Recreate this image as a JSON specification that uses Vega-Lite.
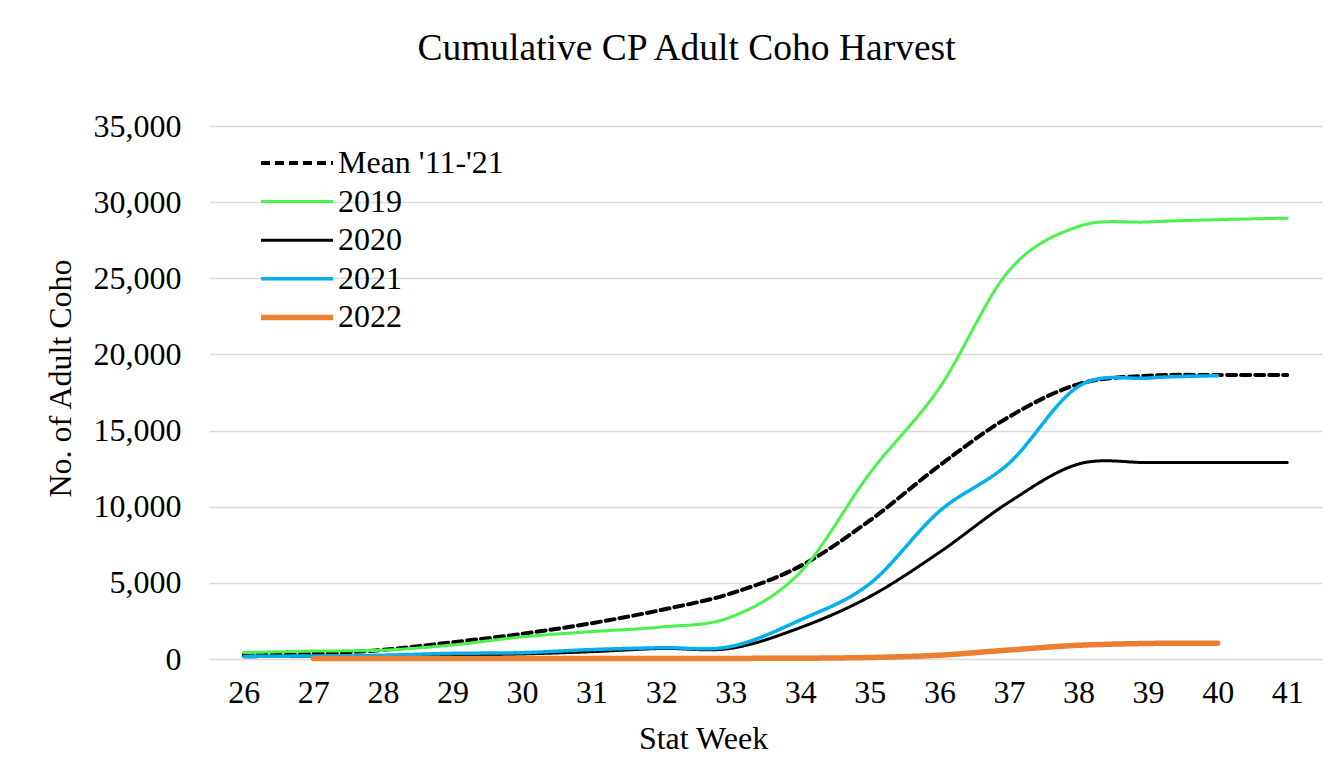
{
  "$schema": "https://vega.github.io/schema/vega-lite/v6.json",
  "width": 1113,
  "height": 533,
  "autosize": "none",
  "padding": {"left": 209, "top": 126, "right": 18, "bottom": 109},
  "background": "white",
  "title": {
    "text": "Cumulative CP Adult Coho Harvest",
    "font": "Liberation Serif",
    "fontSize": 37.5,
    "fontWeight": "normal",
    "color": "black",
    "anchor": "middle",
    "dx": -79,
    "offset": 43
  },
  "data": {
    "values": [
      {"week": 26, "series": "Mean '11-'21", "value": 270},
      {"week": 27, "series": "Mean '11-'21", "value": 340},
      {"week": 28, "series": "Mean '11-'21", "value": 600},
      {"week": 29, "series": "Mean '11-'21", "value": 1100},
      {"week": 30, "series": "Mean '11-'21", "value": 1650},
      {"week": 31, "series": "Mean '11-'21", "value": 2350},
      {"week": 32, "series": "Mean '11-'21", "value": 3220},
      {"week": 33, "series": "Mean '11-'21", "value": 4300},
      {"week": 34, "series": "Mean '11-'21", "value": 6100},
      {"week": 35, "series": "Mean '11-'21", "value": 9100},
      {"week": 36, "series": "Mean '11-'21", "value": 12700},
      {"week": 37, "series": "Mean '11-'21", "value": 15900},
      {"week": 38, "series": "Mean '11-'21", "value": 18050},
      {"week": 39, "series": "Mean '11-'21", "value": 18600},
      {"week": 40, "series": "Mean '11-'21", "value": 18650},
      {"week": 41, "series": "Mean '11-'21", "value": 18650},
      {"week": 26, "series": "2019", "value": 420},
      {"week": 27, "series": "2019", "value": 520},
      {"week": 28, "series": "2019", "value": 580},
      {"week": 29, "series": "2019", "value": 920},
      {"week": 30, "series": "2019", "value": 1450},
      {"week": 31, "series": "2019", "value": 1800},
      {"week": 32, "series": "2019", "value": 2100},
      {"week": 33, "series": "2019", "value": 2750},
      {"week": 34, "series": "2019", "value": 5700},
      {"week": 35, "series": "2019", "value": 12200},
      {"week": 36, "series": "2019", "value": 17800},
      {"week": 37, "series": "2019", "value": 25500},
      {"week": 38, "series": "2019", "value": 28400},
      {"week": 39, "series": "2019", "value": 28700},
      {"week": 40, "series": "2019", "value": 28850},
      {"week": 41, "series": "2019", "value": 28950},
      {"week": 26, "series": "2020", "value": 150},
      {"week": 27, "series": "2020", "value": 180},
      {"week": 28, "series": "2020", "value": 200},
      {"week": 29, "series": "2020", "value": 260},
      {"week": 30, "series": "2020", "value": 330},
      {"week": 31, "series": "2020", "value": 480},
      {"week": 32, "series": "2020", "value": 690},
      {"week": 33, "series": "2020", "value": 700},
      {"week": 34, "series": "2020", "value": 2060},
      {"week": 35, "series": "2020", "value": 4100},
      {"week": 36, "series": "2020", "value": 7000},
      {"week": 37, "series": "2020", "value": 10300},
      {"week": 38, "series": "2020", "value": 12800},
      {"week": 39, "series": "2020", "value": 12900},
      {"week": 40, "series": "2020", "value": 12900},
      {"week": 41, "series": "2020", "value": 12900},
      {"week": 26, "series": "2021", "value": 170},
      {"week": 27, "series": "2021", "value": 200},
      {"week": 28, "series": "2021", "value": 250},
      {"week": 29, "series": "2021", "value": 370},
      {"week": 30, "series": "2021", "value": 415},
      {"week": 31, "series": "2021", "value": 620},
      {"week": 32, "series": "2021", "value": 740},
      {"week": 33, "series": "2021", "value": 820},
      {"week": 34, "series": "2021", "value": 2560},
      {"week": 35, "series": "2021", "value": 4950},
      {"week": 36, "series": "2021", "value": 9700},
      {"week": 37, "series": "2021", "value": 12850},
      {"week": 38, "series": "2021", "value": 17900},
      {"week": 39, "series": "2021", "value": 18450},
      {"week": 40, "series": "2021", "value": 18600},
      {"week": 27, "series": "2022", "value": 30},
      {"week": 28, "series": "2022", "value": 30},
      {"week": 29, "series": "2022", "value": 30},
      {"week": 30, "series": "2022", "value": 35},
      {"week": 31, "series": "2022", "value": 35},
      {"week": 32, "series": "2022", "value": 40},
      {"week": 33, "series": "2022", "value": 40},
      {"week": 34, "series": "2022", "value": 50},
      {"week": 35, "series": "2022", "value": 100},
      {"week": 36, "series": "2022", "value": 250},
      {"week": 37, "series": "2022", "value": 590},
      {"week": 38, "series": "2022", "value": 900},
      {"week": 39, "series": "2022", "value": 1020},
      {"week": 40, "series": "2022", "value": 1040}
    ]
  },
  "mark": {"type": "line", "interpolate": "cardinal", "strokeCap": "round", "strokeJoin": "round"},
  "encoding": {
    "x": {
      "field": "week",
      "type": "quantitative",
      "scale": {"domain": [25.5, 41.5], "nice": false, "zero": false},
      "axis": {
        "values": [26, 27, 28, 29, 30, 31, 32, 33, 34, 35, 36, 37, 38, 39, 40, 41],
        "format": "d",
        "title": "Stat Week",
        "grid": false,
        "domain": false,
        "ticks": false,
        "tickSize": 0,
        "labelPadding": 18,
        "labelFlush": false,
        "labelBaseline": "top",
        "titleX": 494,
        "titleY": 89,
        "titleBaseline": "alphabetic",
        "titleAnchor": null
      }
    },
    "y": {
      "field": "value",
      "type": "quantitative",
      "scale": {"domain": [0, 35000], "nice": false},
      "axis": {
        "values": [0, 5000, 10000, 15000, 20000, 25000, 30000, 35000],
        "format": ",d",
        "title": "No. of Adult Coho",
        "grid": true,
        "gridColor": "#D9D9D9",
        "gridWidth": 1.5,
        "domain": false,
        "ticks": false,
        "tickSize": 0,
        "labelPadding": 28,
        "titleX": -149,
        "titleY": 252,
        "titleAngle": -90,
        "titleBaseline": "middle",
        "titleAlign": "center"
      }
    },
    "color": {
      "field": "series",
      "type": "nominal",
      "scale": {
        "domain": ["Mean '11-'21", "2019", "2020", "2021", "2022"],
        "range": ["#000000", "#4CF24C", "#000000", "#00B0F0", "#ED7D31"]
      },
      "legend": {
        "title": null,
        "orient": "none",
        "legendX": 49,
        "legendY": 21,
        "symbolType": "stroke",
        "symbolSize": 5184,
        "clipHeight": 32,
        "rowPadding": 6.6,
        "labelOffset": 2,
        "labelFont": "Liberation Serif",
        "labelFontSize": 32,
        "labelColor": "black",
        "labelLimit": 400
      }
    },
    "strokeDash": {
      "field": "series",
      "type": "nominal",
      "scale": {
        "domain": ["Mean '11-'21", "2019", "2020", "2021", "2022"],
        "range": [[9, 5], [1, 0], [1, 0], [1, 0], [1, 0]]
      },
      "legend": {
        "title": null,
        "orient": "none",
        "legendX": 49,
        "legendY": 21,
        "symbolType": "stroke",
        "symbolSize": 5184,
        "clipHeight": 32,
        "rowPadding": 6.6,
        "labelOffset": 2,
        "labelFont": "Liberation Serif",
        "labelFontSize": 32,
        "labelColor": "black",
        "labelLimit": 400
      }
    },
    "strokeWidth": {
      "field": "series",
      "type": "nominal",
      "scale": {
        "type": "ordinal",
        "domain": ["Mean '11-'21", "2019", "2020", "2021", "2022"],
        "range": [4, 3, 3, 3.5, 5.5]
      },
      "legend": {
        "title": null,
        "orient": "none",
        "legendX": 49,
        "legendY": 21,
        "symbolType": "stroke",
        "symbolSize": 5184,
        "clipHeight": 32,
        "rowPadding": 6.6,
        "labelOffset": 2,
        "labelFont": "Liberation Serif",
        "labelFontSize": 32,
        "labelColor": "black",
        "labelLimit": 400
      }
    },
    "order": {"field": "week", "type": "quantitative"}
  },
  "config": {
    "font": "Liberation Serif",
    "axis": {
      "labelFont": "Liberation Serif",
      "labelFontSize": 32,
      "labelColor": "black",
      "titleFont": "Liberation Serif",
      "titleFontSize": 32,
      "titleFontWeight": "normal",
      "titleColor": "black"
    },
    "view": {"stroke": null}
  }
}
